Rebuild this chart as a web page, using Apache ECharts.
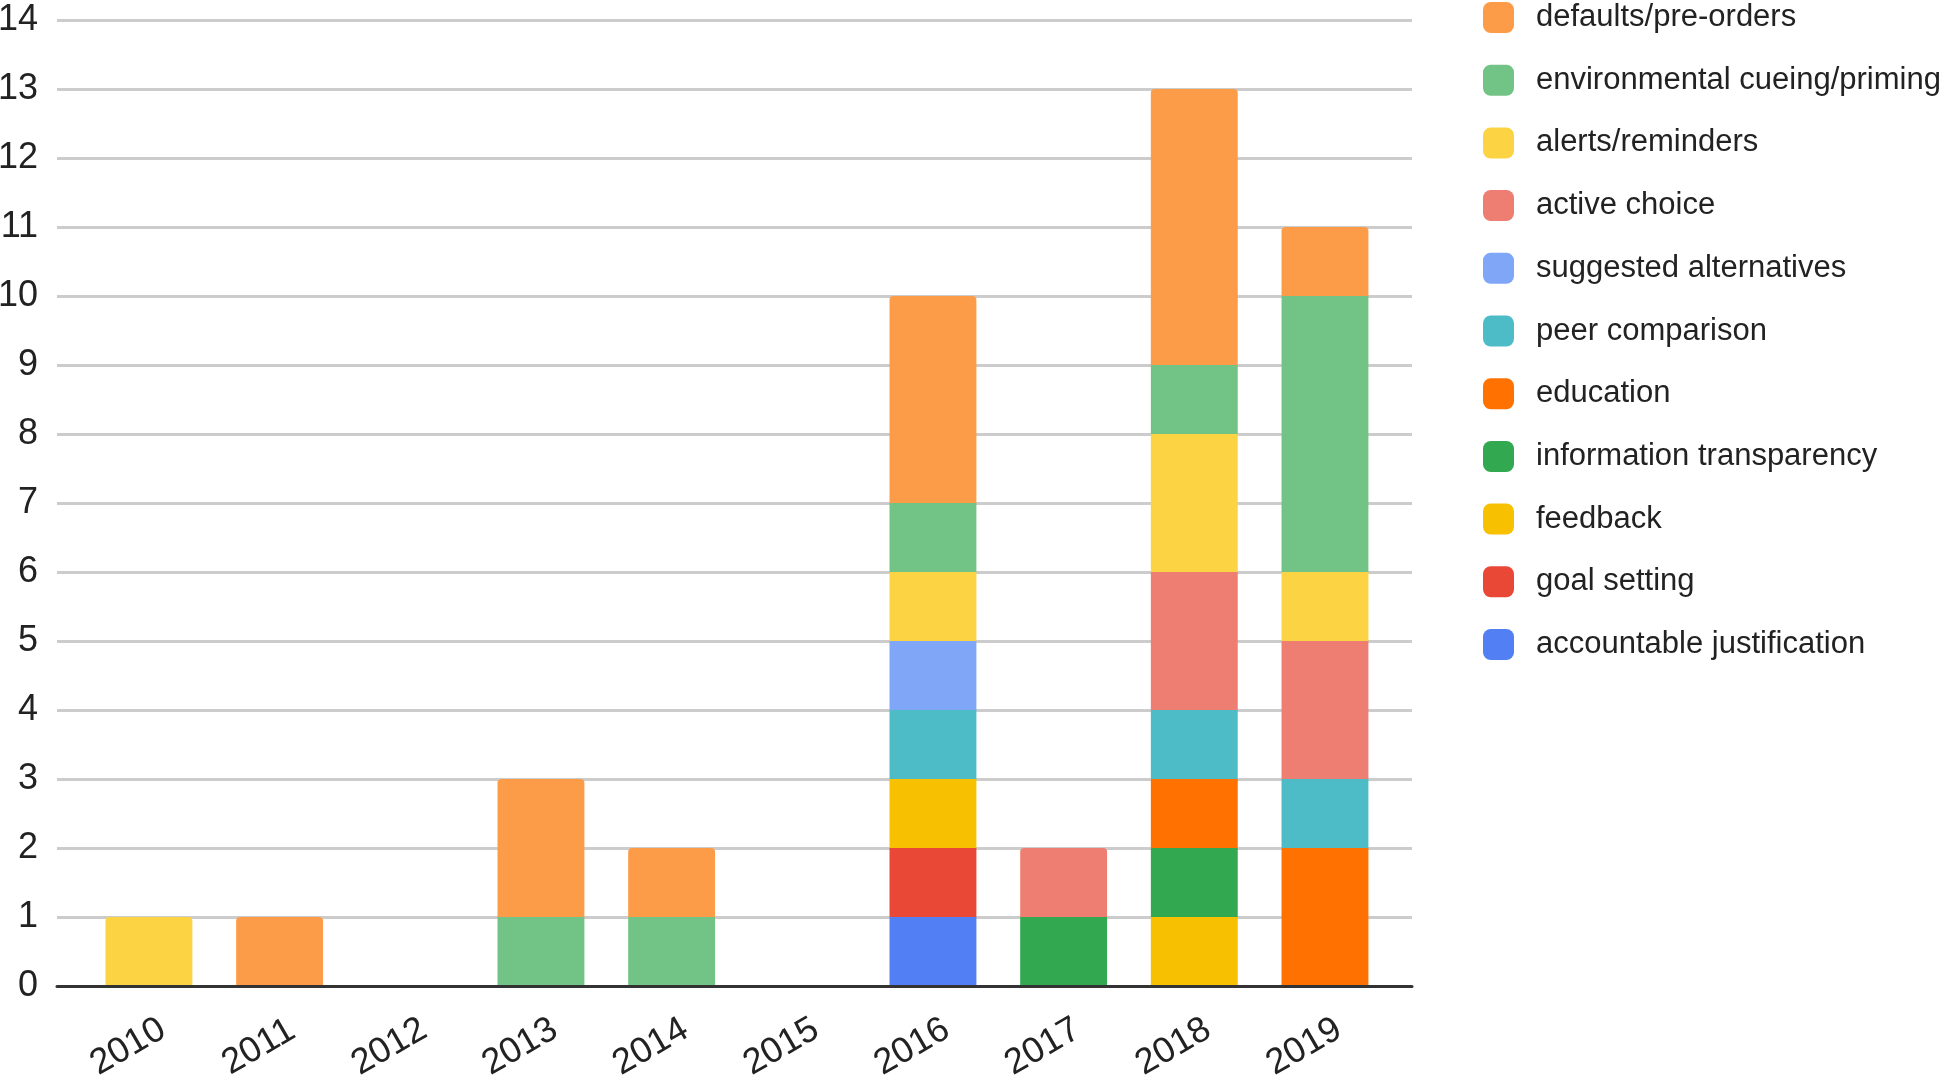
<!DOCTYPE html>
<html>
<head>
<meta charset="utf-8">
<script src="https://cdn.jsdelivr.net/npm/echarts@6/dist/echarts.min.js"></script>
<style>
html,body{margin:0;padding:0;background:#fff;}
#chart{width:1946px;height:1078px;}
</style>
</head>
<body>
<div id="chart"></div>
<script>
const years = ['2010','2011','2012','2013','2014','2015','2016','2017','2018','2019'];
const yTicks = [0,1,2,3,4,5,6,7,8,9,10,11,12,13,14];

// series listed bottom-to-top in the stack
const accountableJustification = [0,0,0,0,0,0,1,0,0,0];
const goalSetting              = [0,0,0,0,0,0,1,0,0,0];
const feedback                 = [0,0,0,0,0,0,1,0,1,0];
const informationTransparency  = [0,0,0,0,0,0,0,1,1,0];
const education                = [0,0,0,0,0,0,0,0,1,2];
const peerComparison           = [0,0,0,0,0,0,1,0,1,1];
const suggestedAlternatives    = [0,0,0,0,0,0,1,0,0,0];
const activeChoice             = [0,0,0,0,0,0,0,1,2,2];
const alertsReminders          = [1,0,0,0,0,0,1,0,2,1];
const environmentalCueing      = [0,0,0,1,1,0,1,0,1,4];
const defaultsPreOrders        = [0,1,0,2,1,0,3,0,4,1];

const seriesDefs = [
  {name:'accountable justification', data:accountableJustification, color:'#537FF5'},
  {name:'goal setting', data:goalSetting, color:'#E84835'},
  {name:'feedback', data:feedback, color:'#F7C000'},
  {name:'information transparency', data:informationTransparency, color:'#32A950'},
  {name:'education', data:education, color:'#FF7100'},
  {name:'peer comparison', data:peerComparison, color:'#4DBCC6'},
  {name:'suggested alternatives', data:suggestedAlternatives, color:'#80A6F8'},
  {name:'active choice', data:activeChoice, color:'#EE7D72'},
  {name:'alerts/reminders', data:alertsReminders, color:'#FBD343'},
  {name:'environmental cueing/priming', data:environmentalCueing, color:'#72C386'},
  {name:'defaults/pre-orders', data:defaultsPreOrders, color:'#FD9C48'}
];

// which series is the top segment of each stack
const topIndex = years.map((_, c) => {
  let t = -1;
  seriesDefs.forEach((s, i) => { if (s.data[c] > 0) t = i; });
  return t;
});

const FONT = "'Liberation Sans', Arial, sans-serif";

const series = seriesDefs.map((s, i) => ({
  name: s.name,
  type: 'bar',
  stack: 'total',
  xAxisIndex: 1,
  yAxisIndex: 1,
  barCategoryGap: '33.5%',
  itemStyle: {color: s.color},
  emphasis: {disabled: true},
  data: s.data.map((v, c) => ({
    value: v,
    itemStyle: topIndex[c] === i ? {borderRadius: [4,4,0,0]} : {}
  }))
}));

const chart = echarts.init(document.getElementById('chart'), null, {renderer: 'canvas'});
chart.setOption({
  animation: false,
  backgroundColor: '#ffffff',
  textStyle: {fontFamily: FONT},
  legend: {
    orient: 'vertical',
    left: 1483,
    top: 2,
    padding: 0,
    itemWidth: 31,
    itemHeight: 31,
    itemGap: 31.7,
    icon: 'roundRect',
    selectedMode: false,
    data: seriesDefs.slice().reverse().map(s => s.name),
    textStyle: {fontSize: 31, color: '#222222', fontFamily: FONT, padding: [0,0,0,17]}
  },
  grid: [
    {left: 57, right: 534, top: 20, bottom: 92, containLabel: false, outerBoundsMode: 'none'},
    {left: 83.6, right: 555.7, top: 20, bottom: 92, containLabel: false, outerBoundsMode: 'none'}
  ],
  xAxis: [
    {
      gridIndex: 0, type: 'value', min: 0, max: 1, z: 5,
      axisLine: {show: true, lineStyle: {color: '#333333', width: 3}},
      axisTick: {show: false}, axisLabel: {show: false}, splitLine: {show: false}
    },
    {
      gridIndex: 1, type: 'category', data: years,
      axisLine: {show: false}, axisTick: {show: false},
      axisLabel: {
        rotate: 30, fontSize: 36, color: '#222222', fontFamily: FONT,
        align: 'center', verticalAlign: 'middle',
        padding: [0, 48, 0, 0], margin: 49, interval: 0
      }
    }
  ],
  yAxis: [
    {
      gridIndex: 0, type: 'value', min: yTicks[0], max: yTicks[yTicks.length-1], interval: 1,
      axisLine: {show: false}, axisTick: {show: false},
      axisLabel: {fontSize: 36, color: '#222222', margin: 19, fontFamily: FONT},
      splitLine: {show: true, lineStyle: {color: '#cccccc', width: 3}}
    },
    {
      gridIndex: 1, type: 'value', min: yTicks[0], max: yTicks[yTicks.length-1], interval: 1, show: false
    }
  ],
  series: series
});
</script>
</body>
</html>
